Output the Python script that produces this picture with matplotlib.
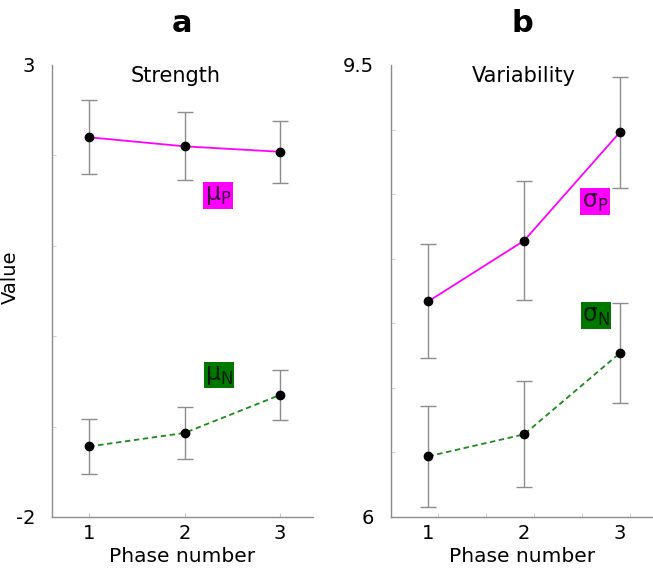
"""
Strength and variability of the P and N components across the three phases.
"""

import matplotlib
matplotlib.use('Agg')
import matplotlib.pyplot as plt

phases = [1, 2, 3]

# panel a: strength
mu_p = [2.20, 2.10, 2.04]
mu_p_err = [0.41, 0.375, 0.345]
mu_n = [-1.22, -1.07, -0.65]
mu_n_err = [0.30, 0.29, 0.28]

# panel b: variability
sigma_p = [7.67, 8.14, 8.98]
sigma_p_err = [0.44, 0.46, 0.43]
sigma_n = [6.47, 6.64, 7.27]
sigma_n_err = [0.39, 0.41, 0.39]

MAGENTA = '#ff00ff'
GREEN = '#1a8a1a'
BOX_GREEN = '#007800'
GREY = '#8c8c8c'


def draw_series(ax, y, err, color, ls):
    ax.errorbar(phases, y, yerr=err, fmt='none', ecolor=GREY, elinewidth=1,
                capsize=5.5, capthick=1, zorder=1)
    ax.plot(phases, y, color=color, lw=1.3, ls=ls, zorder=2)
    ax.plot(phases, y, 'o', color='black', ms=6, zorder=3)


def tag(ax, x, y, text, face, ink):
    ax.text(x, y, text, fontsize=17, color=ink, ha='center', va='center',
            bbox=dict(boxstyle='square,pad=0.06', fc=face, ec='none'))


def style_axes(ax, ylim, yticks, yminor):
    for side in ('top', 'right'):
        ax.spines[side].set_visible(False)
    for side in ('left', 'bottom'):
        ax.spines[side].set_color(GREY)
        ax.spines[side].set_linewidth(1)
    ax.set_xlim(0.61, 3.345)
    ax.set_ylim(*ylim)
    ax.set_yticks(yticks)
    ax.set_yticklabels([f'{t:g}' for t in yticks])
    ax.set_yticks(yminor, minor=True)
    ax.tick_params(axis='y', which='major', length=0, pad=12, labelsize=14)
    ax.tick_params(axis='y', which='minor', direction='in', length=3,
                   color='#c8c8c8')
    ax.tick_params(axis='x', which='major', labelsize=14, pad=5)
    ax.set_xlabel('Phase number', fontsize=14.5, labelpad=3)


def main():
    fig = plt.figure(figsize=(6.53, 5.69), dpi=100)
    ax_a = fig.add_axes([0.0796, 0.0914, 0.3997, 0.7944])
    ax_b = fig.add_axes([0.5988, 0.0914, 0.4012, 0.7944])

    # panel a
    draw_series(ax_a, mu_p, mu_p_err, MAGENTA, '-')
    draw_series(ax_a, mu_n, mu_n_err, GREEN, (0, (3, 2)))
    style_axes(ax_a, (-2, 3), [-2, 3], [-1, 0, 1, 2])
    ax_a.set_xticks(phases)
    ax_a.tick_params(axis='x', direction='in', length=3, color='#c8c8c8')
    ax_a.text(0.475, 0.976, 'Strength', transform=ax_a.transAxes,
              fontsize=15, ha='center', va='center')
    tag(ax_a, 2.35, 1.56, r'$\mathrm{\mu_P}$', MAGENTA, '#3a003a')
    tag(ax_a, 2.36, -0.43, r'$\mathrm{\mu_N}$', BOX_GREEN, '#001a00')
    ax_a.set_title('a', fontsize=22, fontweight='bold', pad=24)

    # panel b
    draw_series(ax_b, sigma_p, sigma_p_err, MAGENTA, '-')
    draw_series(ax_b, sigma_n, sigma_n_err, GREEN, (0, (3, 2)))
    style_axes(ax_b, (6, 9.5), [6, 9.5], [6.5, 7, 7.5, 8, 8.5, 9])
    ax_b.set_xticks(phases)
    ax_b.tick_params(axis='x', which='major', length=0)
    ax_b.set_xticks([1.1, 1.6, 2.1, 2.6, 3.1], minor=True)
    ax_b.tick_params(axis='x', which='minor', direction='in', length=3,
                     color='#c8c8c8')
    ax_b.text(0.508, 0.976, 'Variability', transform=ax_b.transAxes,
              fontsize=15, ha='center', va='center')
    tag(ax_b, 2.74, 8.44, r'$\mathrm{\sigma_P}$', MAGENTA, '#3a003a')
    tag(ax_b, 2.75, 7.56, r'$\mathrm{\sigma_N}$', BOX_GREEN, '#001a00')
    ax_b.set_title('b', fontsize=22, fontweight='bold', pad=24)

    fig.text(0.016, 0.512, 'Value', rotation=90, fontsize=14,
             ha='center', va='center')

    fig.savefig('out.png', dpi=100)


if __name__ == '__main__':
    main()
